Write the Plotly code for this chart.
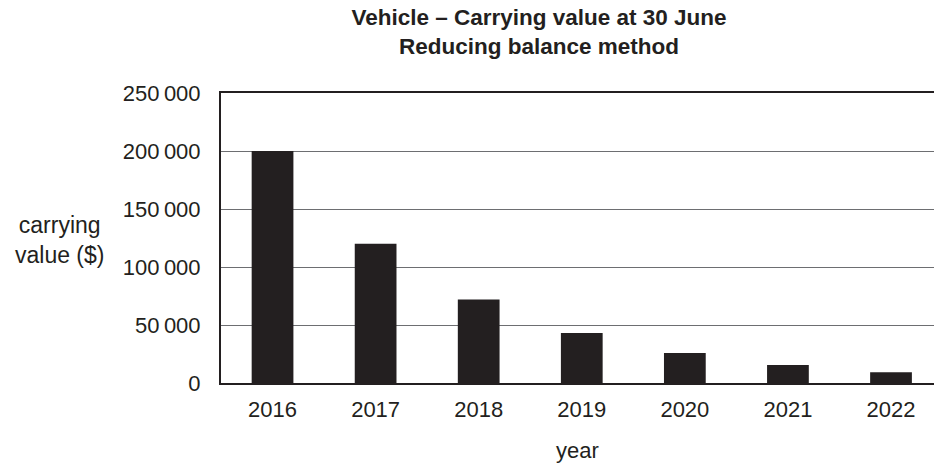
import plotly.graph_objects as go

years = ["2016", "2017", "2018", "2019", "2020", "2021", "2022"]
values = [200000, 120000, 72000, 43200, 25920, 15552, 9331]
y_ticks = [0, 50000, 100000, 150000, 200000, 250000]
y_tick_labels = ["0", "50\u2009000", "100\u2009000", "150\u2009000", "200\u2009000", "250\u2009000"]

ink = "#231f20"
font = "Liberation Sans, Arial, sans-serif"

W, H = 934, 469
ML, MR, MT, MB = 221, 0, 93, 86

fig = go.Figure(go.Bar(x=list(range(len(years))), y=values,
                       marker=dict(color=ink, line=dict(width=0)), width=0.405))

fig.update_layout(
    width=W, height=H,
    margin=dict(l=ML, r=MR, t=MT, b=MB),
    paper_bgcolor="white", plot_bgcolor="white",
    font=dict(family=font, size=22, color=ink),
    showlegend=False,
    title=dict(
        text="<b>Vehicle – Carrying value at 30 June<br>Reducing balance method</b>",
        x=539 / W, xref="container", xanchor="center",
        y=1 - 25 / H, yref="container", yanchor="middle",
        font=dict(family=font, size=22.5, color=ink),
    ),
)
fig.update_xaxes(
    tickmode="array", tickvals=list(range(len(years))), ticktext=years,
    range=[-0.5, 6.417],
    showline=True, linecolor=ink, linewidth=2, mirror=True,
    showgrid=False, ticks="", ticklabelstandoff=6,
    title=dict(text="year", standoff=21, font=dict(size=22)),
    tickfont=dict(size=22),
)
fig.update_yaxes(
    range=[0, 250000], tickmode="array", tickvals=y_ticks, ticktext=y_tick_labels,
    showline=True, linecolor=ink, linewidth=2,
    showgrid=True, gridcolor="#6d6e71", gridwidth=1,
    zeroline=False, ticks="", ticklabelstandoff=14,
    tickfont=dict(size=22),
)
fig.add_annotation(
    text="carrying<br>value ($)",
    x=(59 - ML) / (W - ML - MR), xref="paper",
    y=(H - MB - 240) / (H - MT - MB), yref="paper",
    xanchor="center", yanchor="middle",
    showarrow=False, font=dict(family=font, size=23, color=ink), align="center",
)

fig.write_html(
    "out.html",
    config={"displayModeBar": False},
    post_script="document.body.style.margin='0';document.body.style.overflow='hidden';",
)
